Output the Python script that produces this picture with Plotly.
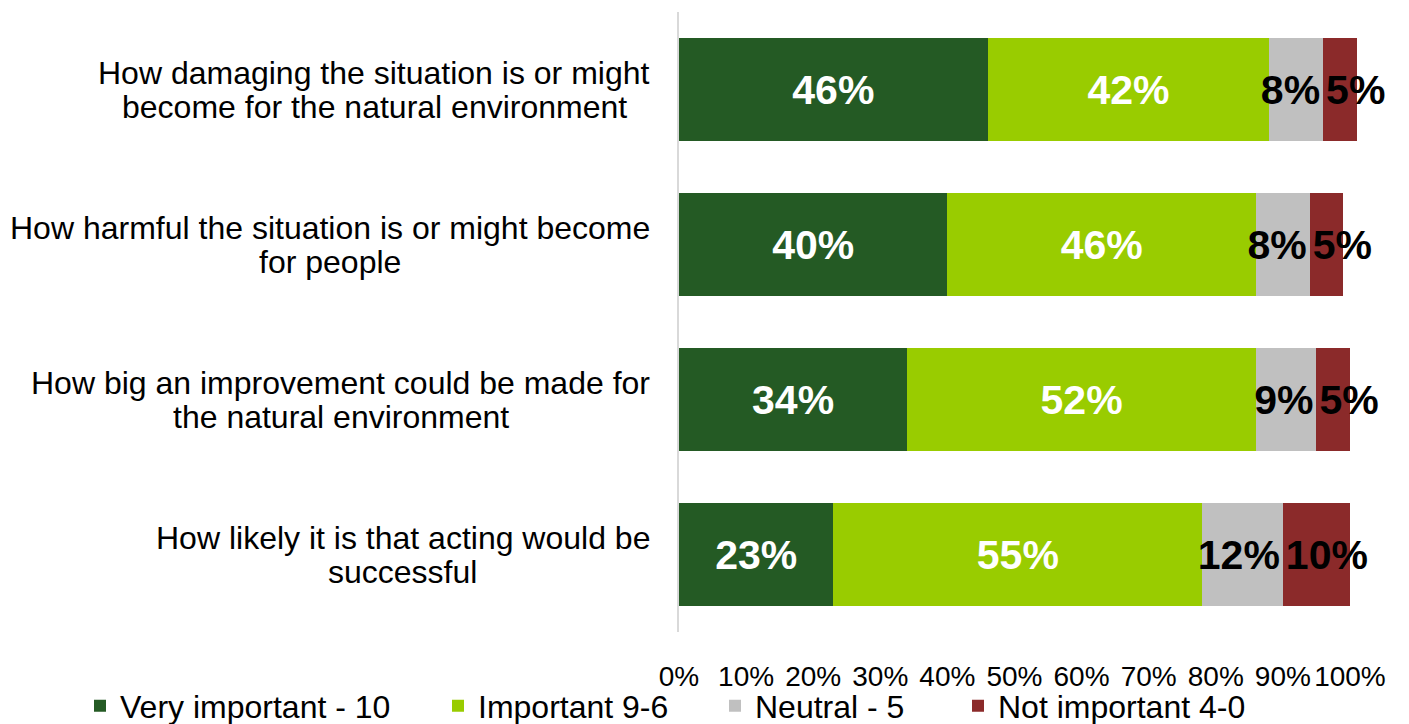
import plotly.graph_objects as go

categories = [
    "How damaging the situation is or might<br>become for the natural environment",
    "How harmful the situation is or might become<br>for people",
    "How big an improvement could be made for<br>the natural environment",
    "How likely it is that acting would be<br>successful",
]
series_names = ["Very important - 10", "Important 9-6", "Neutral - 5", "Not important 4-0"]
very_important = [46, 40, 34, 23]
important = [42, 46, 52, 55]
neutral = [8, 8, 9, 12]
not_important = [5, 5, 5, 10]
tick_vals = [0, 10, 20, 30, 40, 50, 60, 70, 80, 90, 100]
tick_text = ["0%", "10%", "20%", "30%", "40%", "50%", "60%", "70%", "80%", "90%", "100%"]

colors = ["#245A24", "#99CC00", "#C0C0C0", "#8B2A2A"]
text_colors = ["white", "white", "black", "black"]
anchors = ["middle", "middle", "end", "start"]
series = [very_important, important, neutral, not_important]
legend_ids = ["legend", "legend2", "legend3", "legend4"]

FONT = "Liberation Sans, Arial, sans-serif"
W, H = 1409, 724
L, R, T, B = 679, 49, 12, 92
pw = W - L - R
ph = H - T - B

# approximate Arial advance widths (per 1000 em) used to centre wrapped labels
ARIAL_W = {" ": 278, "H": 722, "a": 556, "b": 556, "c": 500, "d": 556, "e": 556,
           "f": 278, "g": 556, "h": 556, "i": 222, "k": 500, "l": 222, "m": 833,
           "n": 556, "o": 556, "p": 556, "r": 333, "s": 500, "t": 278, "u": 556,
           "v": 500, "w": 722, "y": 500}


def text_width(s, size):
    return sum(ARIAL_W.get(ch, 556) for ch in s) * size / 1000.0


fig = go.Figure()
for name, vals, col, tc, anc, lg in zip(series_names, series, colors, text_colors, anchors, legend_ids):
    fig.add_trace(go.Bar(
        y=categories, x=vals, name=name, orientation="h",
        marker=dict(color=col, line=dict(width=0)),
        text=[f"{v}%" for v in vals], textposition="inside",
        insidetextanchor=anc, textangle=0,
        textfont=dict(color=tc, size=41, family=FONT, weight="bold"),
        constraintext="none", cliponaxis=False,
        legend=lg, hoverinfo="skip",
    ))

# category labels: each line centred on the widest line, block right edge at x=650px
LABEL_SIZE = 32
LINE_GAP = 34
label_right_px = 650
for c in categories:
    lines = c.split("<br>")
    widest = max(text_width(s, LABEL_SIZE) for s in lines)
    cx = (label_right_px - widest / 2 - L) / pw
    n = len(lines)
    for i, s in enumerate(lines):
        fig.add_annotation(
            x=cx, xref="paper", y=c, yref="y", text=s, showarrow=False,
            xanchor="center", yanchor="middle", align="center",
            yshift=((n - 1) / 2 - i) * LINE_GAP,
            font=dict(size=LABEL_SIZE, family=FONT, color="black"),
        )

legend_text_px = [120, 478, 755, 998]
legend_layout = {}
for lg, px in zip(legend_ids, legend_text_px):
    legend_layout[lg] = dict(
        orientation="h", x=(px - 40) / W, xref="container", xanchor="left",
        y=1 - 706 / H, yref="container", yanchor="middle",
        font=dict(size=32, family=FONT, color="black"),
        itemwidth=30, bgcolor="rgba(0,0,0,0)", borderwidth=0,
    )

fig.update_layout(
    width=W, height=H,
    margin=dict(l=L, r=R, t=T, b=B, pad=0, autoexpand=False),
    barmode="stack", bargap=0.33,
    plot_bgcolor="white", paper_bgcolor="white",
    uniformtext=dict(minsize=41, mode="show"),
    showlegend=True,
    font=dict(family=FONT, color="black"),
    xaxis=dict(range=[0, 101.5], tickvals=tick_vals, ticktext=tick_text,
               showgrid=False, zeroline=False, showline=False, ticks="",
               tickangle=0,
               tickfont=dict(size=28, family=FONT, color="black"),
               ticklabelstandoff=25, automargin=False, fixedrange=True),
    yaxis=dict(categoryorder="array", categoryarray=categories, autorange="reversed",
               showticklabels=False, showgrid=False, zeroline=False,
               showline=True, linecolor="#D9D9D9", linewidth=2, ticks="",
               automargin=False, fixedrange=True),
    **legend_layout,
)

fig.write_html("out.html")
